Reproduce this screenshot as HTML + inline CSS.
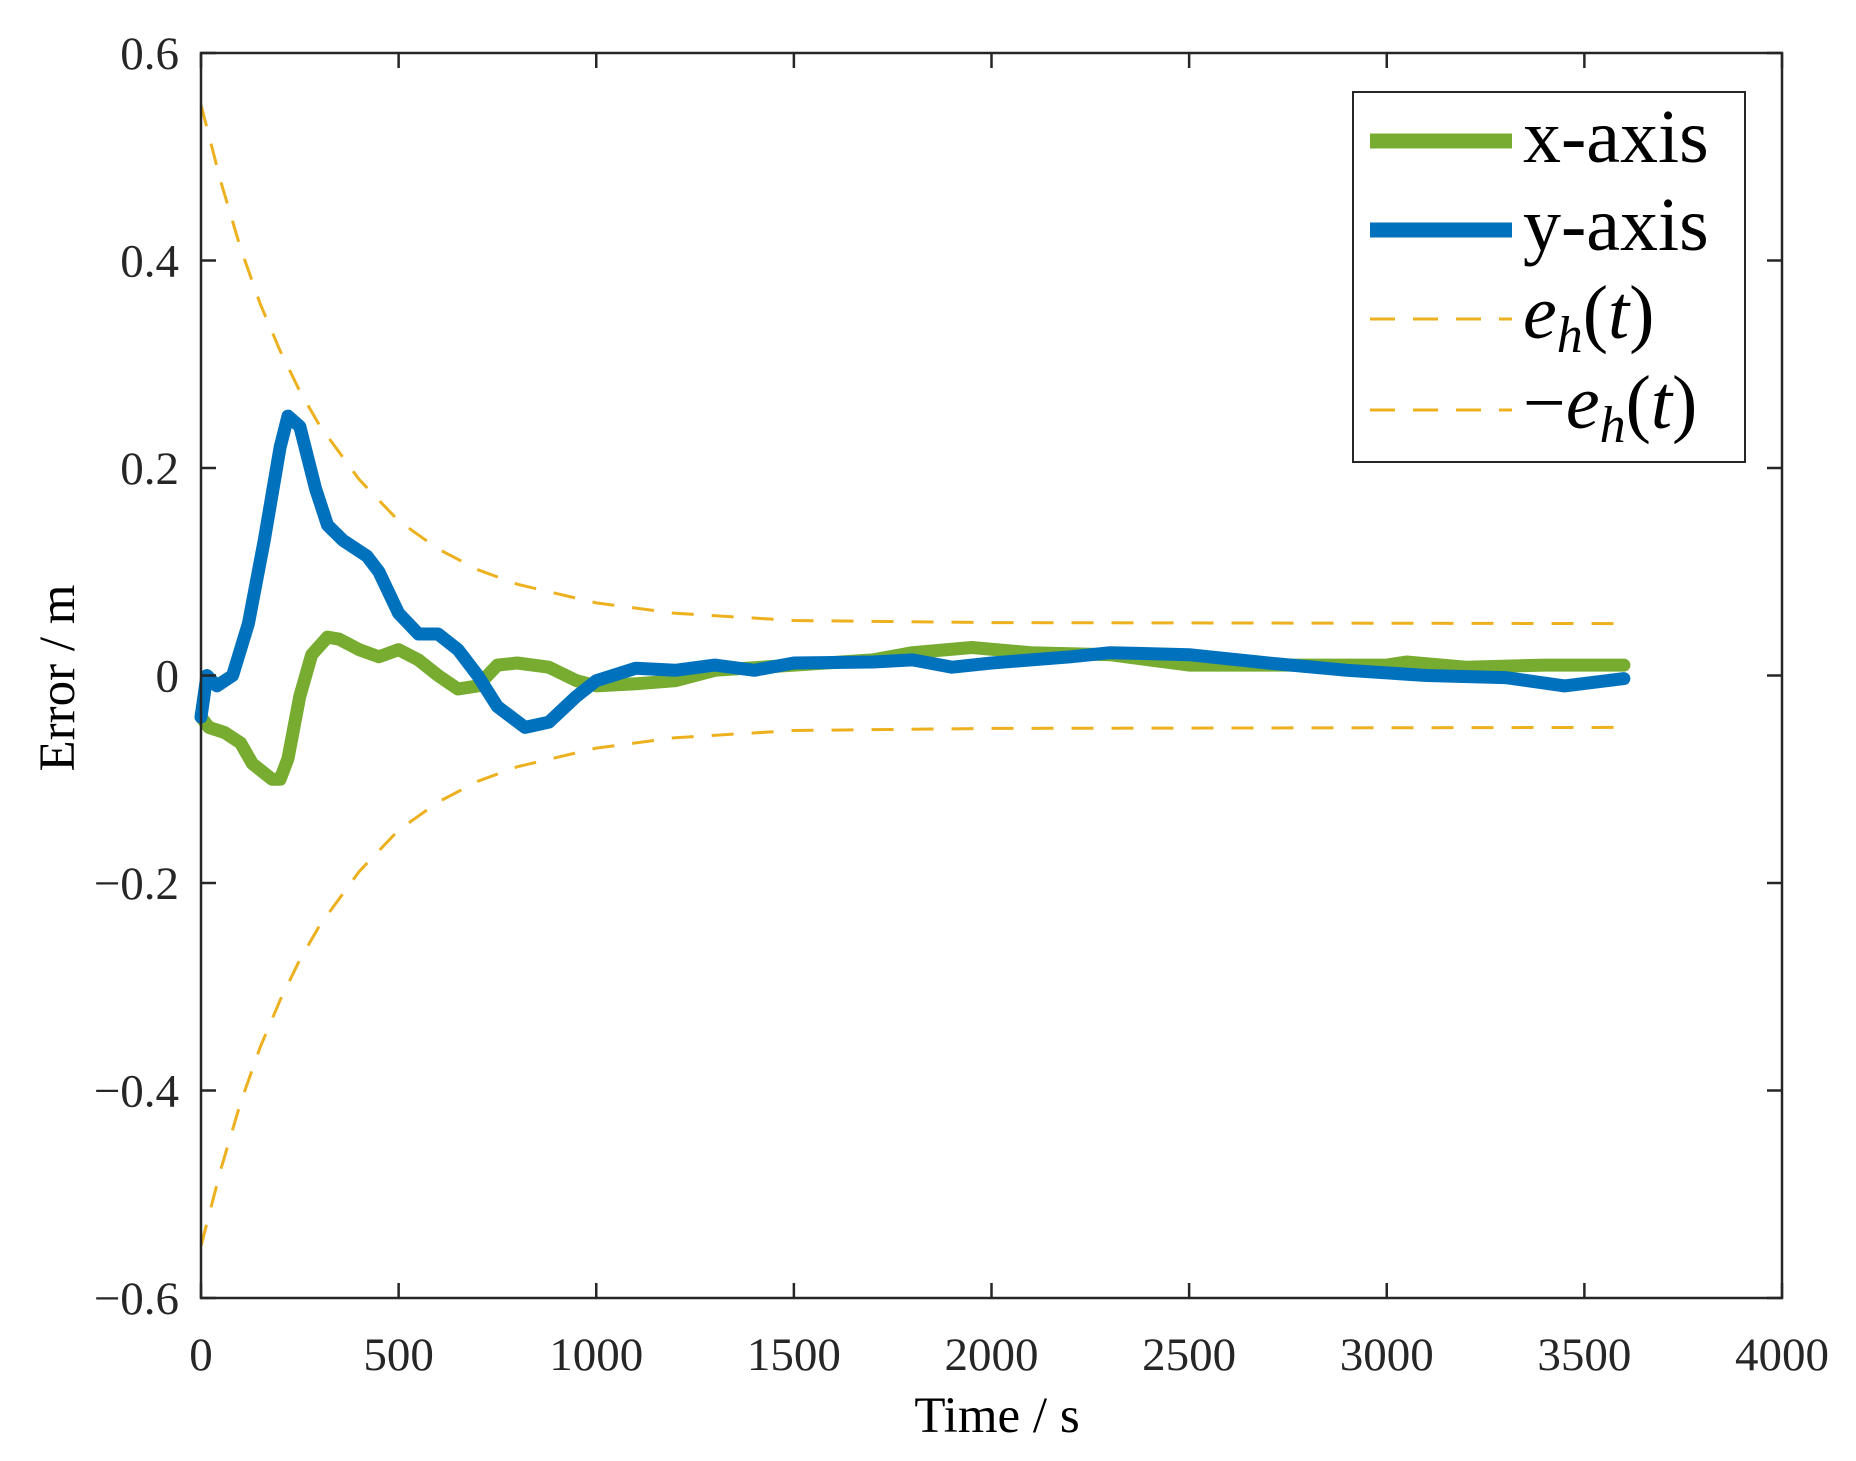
<!DOCTYPE html>
<html><head><meta charset="utf-8"><style>
html,body{margin:0;padding:0;background:#fff;}
svg{display:block;font-family:"Liberation Serif",serif;}
</style></head><body>
<svg id="chart" width="1856" height="1461" viewBox="0 0 1856 1461" xmlns="http://www.w3.org/2000/svg">
<rect width="1856" height="1461" fill="#fff"/>
<g id="marks"></g>
<g id="axes"></g>
<g id="legend" transform="translate(-7,0)">
  <rect x="1360" y="92" width="392" height="370" fill="#fff" stroke="#262626" stroke-width="2"/>
  <line x1="1377" y1="141" x2="1519" y2="141" stroke="#77AC30" stroke-width="15"/>
  <text x="1530" y="162" font-size="76">x-axis</text>
  <line x1="1377" y1="230" x2="1519" y2="230" stroke="#0072BD" stroke-width="15"/>
  <text x="1530" y="250" font-size="76">y-axis</text>
  <line x1="1377" y1="319" x2="1519" y2="319" stroke="#EDB120" stroke-width="3" stroke-dasharray="25 18"/>
  <text x="1530" y="338" font-size="76" font-style="italic">e<tspan font-size="52" dy="14">h</tspan><tspan dy="-14" font-style="normal">(</tspan>t<tspan font-style="normal">)</tspan></text>
  <line x1="1377" y1="410" x2="1519" y2="410" stroke="#EDB120" stroke-width="3" stroke-dasharray="25 18"/>
  <text x="1530" y="428" font-size="76" font-style="italic"><tspan font-style="normal">−</tspan>e<tspan font-size="52" dy="14">h</tspan><tspan dy="-14" font-style="normal">(</tspan>t<tspan font-style="normal">)</tspan></text>
</g>
<text x="0" y="0" font-size="51" text-anchor="middle" transform="translate(74,678) rotate(-90)">Error / m</text>
<text x="997" y="1432" font-size="51" text-anchor="middle">Time / s</text>
</svg>
<script>
const xTicks = [0,500,1000,1500,2000,2500,3000,3500,4000];
const yTicks = [-0.6,-0.4,-0.2,0,0.2,0.4,0.6];
const yTickLabels = ["−0.6","−0.4","−0.2","0","0.2","0.4","0.6"];
const envT = [0,50,100,150,200,250,300,400,500,600,700,800,1000,1200,1500,2000,3600];
const envV = [0.55,0.476,0.412,0.358,0.313,0.274,0.241,0.189,0.149,0.122,0.102,0.088,0.070,0.060,0.053,0.051,0.05];
const xAxisT = [0,20,60,100,130,180,200,220,250,280,320,350,400,450,500,550,600,650,700,750,800,880,950,1000,1100,1200,1300,1500,1700,1800,1950,2100,2300,2500,2700,3000,3050,3200,3400,3600];
const xAxisV = [-0.04,-0.05,-0.055,-0.065,-0.085,-0.1,-0.1,-0.08,-0.02,0.02,0.037,0.035,0.025,0.018,0.025,0.015,0.0,-0.013,-0.01,0.01,0.012,0.008,-0.005,-0.01,-0.008,-0.005,0.005,0.01,0.015,0.022,0.027,0.022,0.02,0.01,0.01,0.01,0.013,0.008,0.01,0.01];
const yAxisT = [0,15,40,80,120,160,200,220,250,290,320,360,420,450,500,550,600,650,700,750,820,880,950,1000,1100,1200,1300,1400,1500,1700,1800,1900,2000,2200,2300,2500,2700,2900,3100,3300,3450,3600];
const yAxisV = [-0.04,0.0,-0.01,0.0,0.05,0.13,0.22,0.25,0.24,0.18,0.145,0.13,0.115,0.1,0.06,0.04,0.04,0.025,0.0,-0.03,-0.05,-0.045,-0.02,-0.005,0.007,0.005,0.01,0.005,0.012,0.013,0.015,0.008,0.012,0.018,0.022,0.02,0.012,0.005,0.0,-0.002,-0.01,-0.003];

const L=201,R=1782,T=53,B=1298;
const sx=t=>L+(t-0)/(4000-0)*(R-L);
const sy=v=>B-(v+0.6)/1.2*(B-T);
const NS="http://www.w3.org/2000/svg";
const marks=document.getElementById('marks');
const axes=document.getElementById('axes');
function mk(tag,attrs,parent){const e=document.createElementNS(NS,tag);for(const k in attrs)e.setAttribute(k,attrs[k]);parent.appendChild(e);return e;}
function pathD(ts,vs,sign){return ts.map((t,i)=>(i?'L':'M')+sx(t).toFixed(1)+' '+sy(sign*vs[i]).toFixed(1)).join(' ');}

const up=mk('path',{d:pathD(envT,envV,1),fill:'none',stroke:'#EDB120','stroke-width':3,'stroke-dasharray':'22 18'},marks);


const lo=mk('path',{d:pathD(envT,envV,-1),fill:'none',stroke:'#EDB120','stroke-width':3,'stroke-dasharray':'22 18'},marks);


const gx=mk('path',{d:pathD(xAxisT,xAxisV,1),fill:'none',stroke:'#77AC30','stroke-width':13,'stroke-linejoin':'round','stroke-linecap':'round'},marks);


const gy=mk('path',{d:pathD(yAxisT,yAxisV,1),fill:'none',stroke:'#0072BD','stroke-width':13,'stroke-linejoin':'round','stroke-linecap':'round'},marks);



const frame=mk('rect',{x:L,y:T,width:R-L,height:B-T,fill:'none',stroke:'#262626','stroke-width':2.5},axes);


xTicks.forEach(t=>{
  const x=sx(t);
  mk('line',{x1:x,y1:B,x2:x,y2:B-15,stroke:'#262626','stroke-width':2.5},axes);
  mk('line',{x1:x,y1:T,x2:x,y2:T+15,stroke:'#262626','stroke-width':2.5},axes);
  const lb=mk('text',{x:x,y:1370,'font-size':47,'text-anchor':'middle',fill:'#262626'},axes);
  lb.textContent=String(t);
  
  
});
yTicks.forEach((v,i)=>{
  const y=sy(v);
  mk('line',{x1:L,y1:y,x2:L+15,y2:y,stroke:'#262626','stroke-width':2.5},axes);
  mk('line',{x1:R,y1:y,x2:R-15,y2:y,stroke:'#262626','stroke-width':2.5},axes);
  const lb=mk('text',{x:179,y:y+16,'font-size':47,'text-anchor':'end',fill:'#262626'},axes);
  lb.textContent=yTickLabels[i];
  
  
});
</script>
</body></html>
